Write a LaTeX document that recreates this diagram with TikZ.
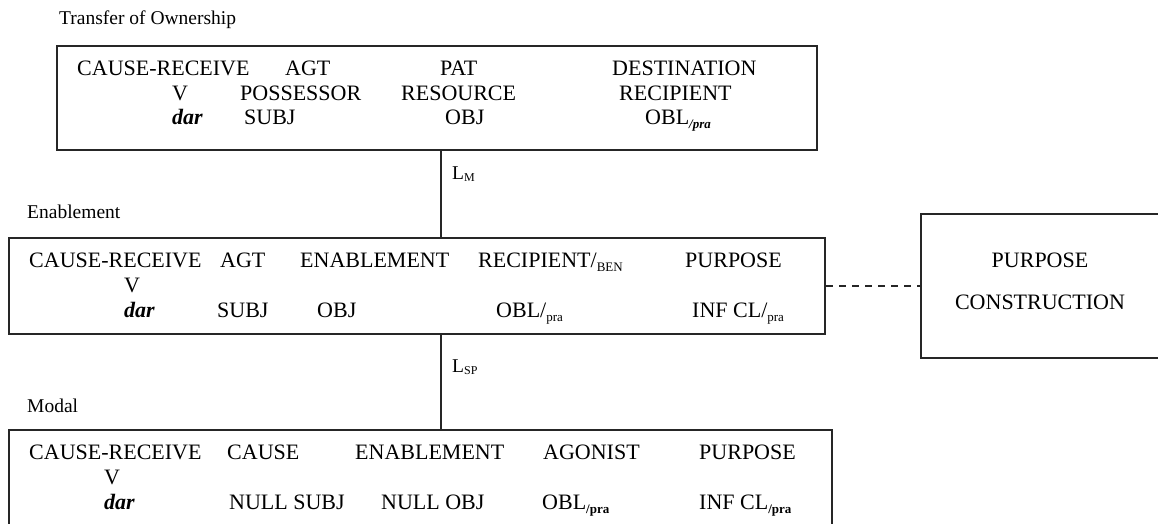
\documentclass[tikz,border=0pt]{standalone}
\usepackage{fontspec}
\setmainfont{Liberation Serif}
\newcommand\mysub[1]{\raisebox{-0.35ex}{\fontsize{13}{13}\selectfont #1}}
\newcommand\mysmsub[1]{\raisebox{-0.3ex}{\fontsize{12}{12}\selectfont #1}}
\definecolor{linec}{HTML}{262626}
\begin{document}
\begin{tikzpicture}[x=1pt,y=-1pt,
  box/.style={draw=linec, line width=2pt, inner sep=0pt, anchor=north west},
  conn/.style={draw=linec, line width=2pt},
  t/.style={anchor=base west, inner sep=0pt, font=\fontsize{22}{26}\selectfont},
  tc/.style={anchor=base, inner sep=0pt, font=\fontsize{22}{26}\selectfont},
  lab/.style={anchor=base west, inner sep=0pt, font=\fontsize{19.5}{23}\selectfont}]
\useasboundingbox (0,0) rectangle (1158,523);
\clip (0,0) rectangle (1158,523);

% boxes
\node[box, minimum width=760pt, minimum height=104pt] (b1) at (56,45) {};
\node[box, minimum width=816pt, minimum height=96pt] (b2) at (8,237) {};
\node[box, minimum width=250pt, minimum height=144pt] (b3) at (920,213) {};
\node[box, minimum width=823pt, minimum height=110pt] (b4) at (8,429) {};

% connectors
\draw[conn] ([xshift=4pt]b1.south) -- ([xshift=4pt]b1.south |- b2.north);
\draw[conn] ([xshift=4pt]b1.south |- b2.south) -- ([xshift=4pt]b1.south |- b4.north);
\draw[conn, dash pattern=on 7pt off 6pt] (b2.east) -- (b3.west);

% labels
\node[lab] (l1) at (59,24) {Transfer of Ownership};
\node[lab] (l2) at (27,218) {Enablement};
\node[lab] (l3) at (27,412.5) {Modal};
\node[lab] (lm) at (452,179) {L\mysmsub{M}};
\node[lab] (lsp) at (452,372) {L\mysmsub{SP}};

% box 1
\node[t] (a1) at (77,75.5) {CAUSE-RECEIVE};
\node[t] (a2) at (285,75.5) {AGT};
\node[t] (a3) at (440,75.5) {PAT};
\node[t] (a4) at (612,75.5) {DESTINATION};
\node[t] (a5) at (172,100.5) {V};
\node[t] (a6) at (240,100.5) {POSSESSOR};
\node[t] (a7) at (401,100.5) {RESOURCE};
\node[t] (a8) at (619,100.5) {RECIPIENT};
\node[t] (a9) at (172,124.5) {\textbf{\textit{dar}}};
\node[t] (a10) at (244,124.5) {SUBJ};
\node[t] (a11) at (445,124.5) {OBJ};
\node[t] (a12) at (645,124.5) {OBL\mysub{\textbf{\textit{/pra}}}};

% box 2
\node[t] (c1) at (29,267.5) {CAUSE-RECEIVE};
\node[t] (c2) at (220,267.5) {AGT};
\node[t] (c3) at (300,267.5) {ENABLEMENT};
\node[t] (c4) at (478,267.5) {RECIPIENT/\mysub{BEN}};
\node[t] (c5) at (685,267.5) {PURPOSE};
\node[t] (c6) at (124,292.5) {V};
\node[t] (c7) at (124,317.5) {\textbf{\textit{dar}}};
\node[t] (c8) at (217,317.5) {SUBJ};
\node[t] (c9) at (317,317.5) {OBJ};
\node[t] (c10) at (496,317.5) {OBL/\mysub{pra}};
\node[t] (c11) at (692,317.5) {INF CL/\mysub{pra}};

% box 3
\node[tc] (p1) at (1040,267.5) {PURPOSE};
\node[tc] (p2) at (1040,309.5) {CONSTRUCTION};

% box 4
\node[t] (d1) at (29,459.5) {CAUSE-RECEIVE};
\node[t] (d2) at (227,459.5) {CAUSE};
\node[t] (d3) at (355,459.5) {ENABLEMENT};
\node[t] (d4) at (543,459.5) {AGONIST};
\node[t] (d5) at (699,459.5) {PURPOSE};
\node[t] (d6) at (104,484.5) {V};
\node[t] (d7) at (104,509.5) {\textbf{\textit{dar}}};
\node[t] (d8) at (229,509.5) {NULL SUBJ};
\node[t] (d9) at (381,509.5) {NULL OBJ};
\node[t] (d10) at (542,509.5) {OBL\mysub{\textbf{/pra}}};
\node[t] (d11) at (699,509.5) {INF CL\mysub{\textbf{/pra}}};
\end{tikzpicture}
\end{document}
